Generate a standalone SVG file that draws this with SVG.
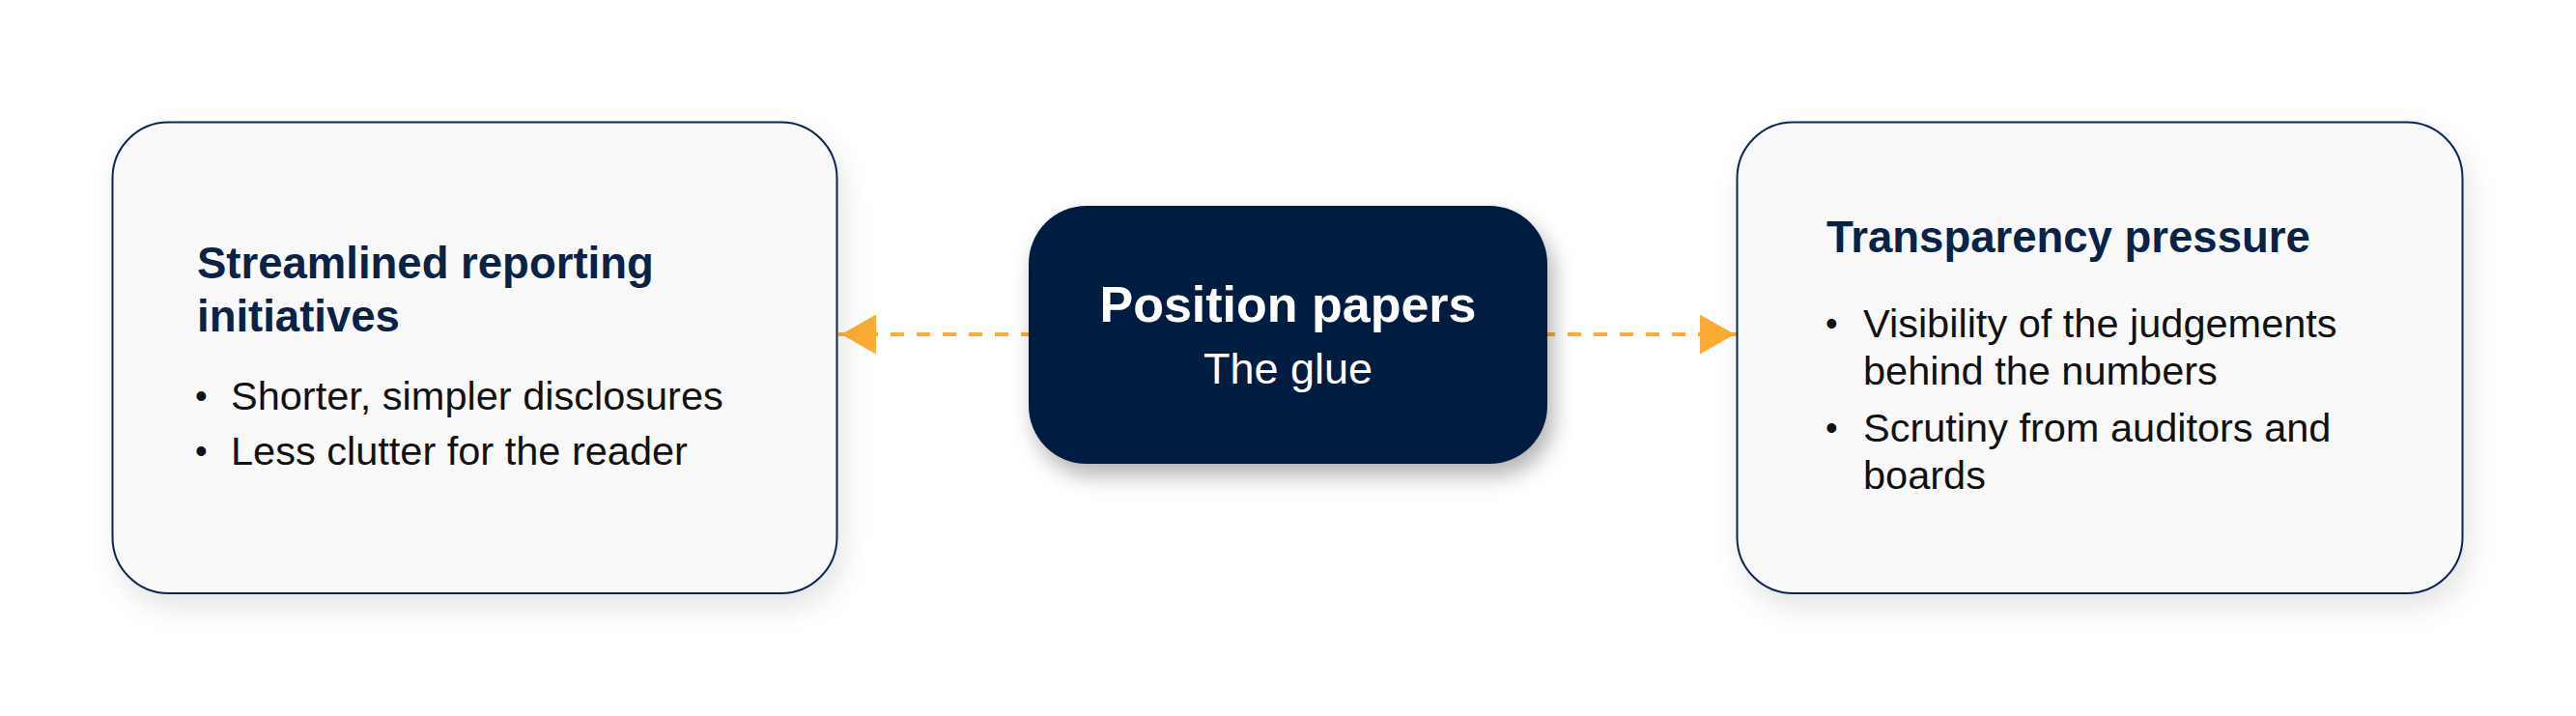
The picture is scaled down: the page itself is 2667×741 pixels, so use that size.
<svg xmlns="http://www.w3.org/2000/svg" width="2667" height="741" viewBox="0 0 2667 741">
  <defs>
    <filter id="softShadow" x="-10%" y="-10%" width="125%" height="130%">
      <feDropShadow dx="6" dy="14" stdDeviation="14" flood-color="#000" flood-opacity="0.10"/>
    </filter>
    <filter id="darkShadow" x="-15%" y="-15%" width="135%" height="145%">
      <feDropShadow dx="6" dy="12" stdDeviation="11" flood-color="#000" flood-opacity="0.30"/>
    </filter>
    <marker id="arrow" viewBox="0 0 36 41" refX="39" refY="20.5" markerWidth="36" markerHeight="41" markerUnits="userSpaceOnUse" orient="auto-start-reverse">
      <path d="M0,0 L36,20.5 L0,41 Z" fill="#FCAC34"/>
    </marker>
  </defs>
  <style>
    text { font-family: "Liberation Sans", Arial, Helvetica, sans-serif; }
    .card { fill: #f9f9f9; stroke: #0b2650; stroke-width: 2; filter: url(#softShadow); }
    .core { fill: #031f41; filter: url(#darkShadow); }
    .title { font-size: 45.5px; font-weight: bold; fill: #0a2245; }
    .item { font-size: 41.5px; fill: #111111; }
    .dot { font-size: 36px; fill: #111111; }
    .coreTitle { font-size: 52px; font-weight: bold; fill: #ffffff; text-anchor: middle; }
    .coreSub { font-size: 45px; fill: #ffffff; text-anchor: middle; }
    .link { fill: none; stroke: #FCAC34; stroke-width: 4; stroke-dasharray: 14 13; }
  </style>
  <rect width="2667" height="741" fill="#ffffff"/>

  <g id="connectors">
    <path class="link" d="M868,346 L1066,346" marker-start="url(#arrow)"/>
    <path class="link" d="M1799,346 L1601,346" marker-start="url(#arrow)"/>
  </g>

  <g id="node-streamlined">
    <rect class="card" x="116.5" y="126.5" width="750" height="487.5" rx="58" ry="58"/>
    <text class="title" x="204" y="288">Streamlined reporting</text>
    <text class="title" x="204" y="343">initiatives</text>
    <text class="dot" x="202" y="422">•</text>
    <text class="item" x="239" y="424">Shorter, simpler disclosures</text>
    <text class="dot" x="202" y="479">•</text>
    <text class="item" x="239" y="481">Less clutter for the reader</text>
  </g>

  <g id="node-position">
    <rect class="core" x="1065" y="213" width="537" height="267" rx="60" ry="60"/>
    <text class="coreTitle" x="1333.5" y="333">Position papers</text>
    <text class="coreSub" x="1333.5" y="397">The glue</text>
  </g>

  <g id="node-transparency">
    <rect class="card" x="1798.5" y="126.5" width="751" height="487.5" rx="58" ry="58"/>
    <text class="title" x="1891" y="261">Transparency pressure</text>
    <text class="dot" x="1890" y="347">•</text>
    <text class="item" x="1929" y="349">Visibility of the judgements</text>
    <text class="item" x="1929" y="398">behind the numbers</text>
    <text class="dot" x="1890" y="455">•</text>
    <text class="item" x="1929" y="457">Scrutiny from auditors and</text>
    <text class="item" x="1929" y="506">boards</text>
  </g>
</svg>
